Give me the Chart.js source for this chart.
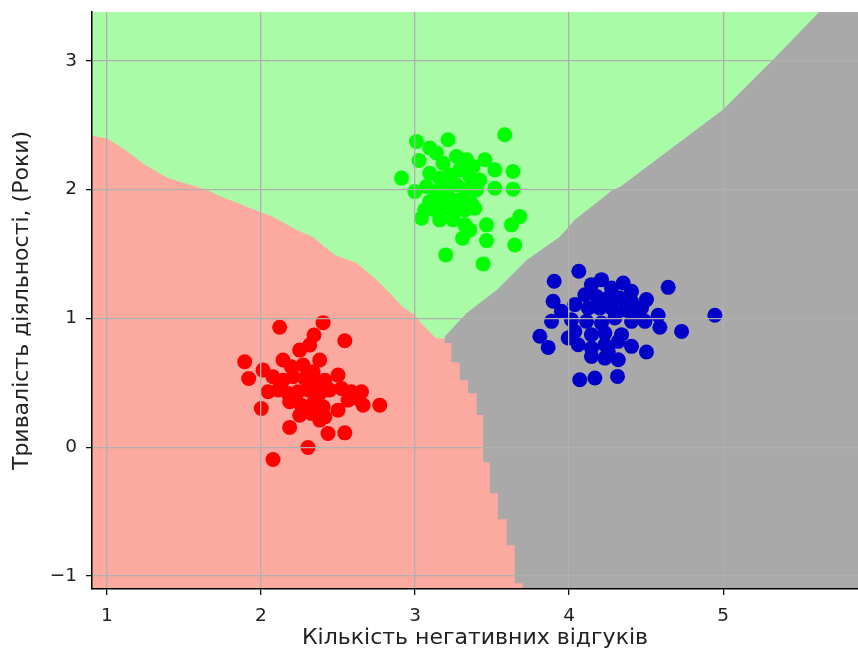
<!DOCTYPE html>
<html>
<head>
<meta charset="utf-8">
<script src="https://cdn.jsdelivr.net/npm/chart.js@4.4.1/dist/chart.umd.min.js"></script>
<style>
  html, body { margin: 0; padding: 0; background: #fff; }
  #wrap { width: 858px; height: 655px; }
</style>
</head>
<body>
<div id="wrap"><canvas id="grafico"></canvas></div>
<script>
// точки трьох класів [x, y]
const redPoints = [
  [2.121, 0.931], [2.403, 0.967], [2.344, 0.871], [2.544, 0.827], [1.894, 0.664],
  [1.920, 0.534], [2.013, 0.599], [2.002, 0.301], [2.186, 0.154], [2.305, -0.002],
  [2.078, -0.095], [2.544, 0.112], [2.435, 0.107], [2.771, 0.327], [2.663, 0.327],
  [2.652, 0.431], [2.500, 0.288], [2.500, 0.560], [2.251, 0.249], [2.381, 0.211],
  [2.251, 0.754], [2.316, 0.793], [2.381, 0.677], [2.143, 0.677], [2.197, 0.625],
  [2.273, 0.638], [2.338, 0.586], [2.078, 0.547], [2.143, 0.521], [2.208, 0.547],
  [2.284, 0.534], [2.349, 0.508], [2.414, 0.521], [2.046, 0.431], [2.111, 0.444],
  [2.176, 0.418], [2.240, 0.431], [2.305, 0.444], [2.381, 0.418], [2.446, 0.444],
  [2.522, 0.457], [2.587, 0.431], [2.186, 0.353], [2.262, 0.327], [2.338, 0.340],
  [2.403, 0.314], [2.565, 0.366], [2.630, 0.379], [2.327, 0.262], [2.414, 0.236]
];
const greenPoints = [
  [3.582, 2.425], [3.009, 2.373], [3.214, 2.386], [3.095, 2.322], [3.026, 2.225],
  [2.912, 2.089], [2.998, 1.984], [3.636, 2.140], [3.636, 2.003], [3.518, 2.011],
  [3.453, 2.231], [3.518, 2.153], [3.680, 1.790], [3.626, 1.726], [3.464, 1.726],
  [3.464, 1.604], [3.647, 1.570], [3.308, 1.622], [3.199, 1.493], [3.442, 1.423],
  [3.042, 1.778], [3.399, 1.998],
  [3.139, 2.283], [3.182, 2.205], [3.269, 2.257], [3.334, 2.231], [3.377, 2.179],
  [3.095, 2.127], [3.160, 2.088], [3.225, 2.114], [3.290, 2.153], [3.355, 2.101],
  [3.420, 2.075], [3.074, 2.024], [3.139, 1.985], [3.204, 2.024], [3.269, 2.037],
  [3.334, 1.998], [3.095, 1.907], [3.160, 1.920], [3.225, 1.933], [3.290, 1.920],
  [3.366, 1.894], [3.063, 1.842], [3.128, 1.842], [3.193, 1.855], [3.258, 1.829],
  [3.323, 1.842], [3.388, 1.855], [3.160, 1.765], [3.247, 1.765], [3.323, 1.726],
  [3.355, 1.687]
];
const bluePoints = [
  [4.063, 1.366], [3.903, 1.288], [4.643, 1.241], [4.946, 1.024], [4.730, 0.899],
  [4.502, 1.146], [4.578, 1.024], [4.589, 0.931], [4.502, 0.739], [3.810, 0.861],
  [3.864, 0.775], [4.069, 0.524], [4.167, 0.537], [4.314, 0.550], [3.896, 1.133],
  [3.886, 0.977], [3.994, 0.848],
  [4.145, 1.262], [4.210, 1.301], [4.275, 1.236], [4.351, 1.275], [4.405, 1.210],
  [4.102, 1.184], [4.178, 1.171], [4.253, 1.158], [4.329, 1.158], [4.405, 1.133],
  [4.470, 1.081], [4.037, 1.107], [4.124, 1.081], [4.199, 1.081], [4.275, 1.081],
  [4.362, 1.068], [4.437, 1.042], [3.950, 1.055], [4.015, 0.990], [4.113, 0.977],
  [4.210, 0.964], [4.297, 1.003], [4.405, 0.977], [4.492, 0.977], [4.037, 0.899],
  [4.145, 0.874], [4.232, 0.887], [4.340, 0.874], [4.059, 0.796], [4.145, 0.770],
  [4.232, 0.796], [4.319, 0.822], [4.405, 0.783], [4.145, 0.705], [4.232, 0.692],
  [4.319, 0.679], [4.254, 0.744]
];

// межі областей класифікації
const redGreenBoundary = [
  [0.80, 2.443], [1.005, 2.394], [1.134, 2.293], [1.245, 2.192], [1.394, 2.091],
  [1.537, 2.037], [1.634, 2.005], [1.745, 1.943], [1.842, 1.897], [1.946, 1.850],
  [2.076, 1.788], [2.232, 1.687], [2.336, 1.632], [2.479, 1.493], [2.621, 1.430],
  [2.751, 1.298], [2.836, 1.197], [2.920, 1.089], [2.998, 1.026], [3.050, 0.949],
  [3.139, 0.845], [3.193, 0.845]
];
const redGrayBoundary = [
  [3.193, 0.860], [3.193, 0.810], [3.236, 0.810], [3.236, 0.660], [3.290, 0.660],
  [3.290, 0.520], [3.344, 0.520], [3.344, 0.420], [3.399, 0.420], [3.399, 0.250],
  [3.442, 0.250], [3.442, -0.116], [3.485, -0.116], [3.485, -0.357], [3.537, -0.357],
  [3.537, -0.559], [3.595, -0.559], [3.595, -0.761], [3.647, -0.761], [3.647, -1.056],
  [3.699, -1.056], [3.699, -1.300]
];
const greenGrayBoundary = [
  [3.193, 0.860], [3.335, 1.042], [3.530, 1.221], [3.725, 1.454], [3.940, 1.633],
  [4.037, 1.765], [4.284, 1.998], [4.330, 2.020], [4.998, 2.619], [5.323, 3.008],
  [5.641, 3.400], [5.641, 3.500]
];

const xTickValues = [1, 2, 3, 4, 5];
const yTickValues = [-1, 0, 1, 2, 3];

const xMin = 0.903, xMax = 5.875, yMin = -1.10, yMax = 3.378;

function toXY(arr) {
  return arr.map(p => ({ x: p[0], y: p[1] }));
}

// багатокутники областей
const greenArea = [[0.7, -1.4], [6.0, -1.4], [6.0, 3.6], [0.7, 3.6]];
const redArea = [[0.7, -1.4], [0.7, 2.443]].concat(redGreenBoundary, [[3.9, 0.845], [3.9, -1.4]]);
const grayArea = redGrayBoundary.concat([[6.0, -1.4], [6.0, 3.6]], greenGrayBoundary.slice().reverse());

function area(points, color, order) {
  return {
    data: toXY(points),
    showLine: true,
    fill: 'shape',
    backgroundColor: color,
    borderWidth: 0,
    pointRadius: 0,
    order: order
  };
}

function cluster(points, color) {
  return {
    data: toXY(points),
    backgroundColor: color,
    borderColor: color,
    borderWidth: 0,
    pointRadius: 7.5,
    order: 0
  };
}

const tickFont = { family: 'DejaVu Sans', size: 18.5 };
const titleFont = { family: 'DejaVu Sans', size: 22 };

const contexto = document.getElementById('grafico').getContext('2d');
new Chart(contexto, {
  type: 'scatter',
  data: {
    datasets: [
      cluster(redPoints, '#ff0000'),
      cluster(greenPoints, '#00ff00'),
      cluster(bluePoints, '#0000c8'),
      area(grayArea, '#a9a9a9', 1),
      area(redArea, '#fca9a0', 2),
      area(greenArea, '#aafba8', 3)
    ]
  },
  options: {
    responsive: true,
    maintainAspectRatio: false,
    animation: false,
    layout: { autoPadding: false, padding: { top: 12, right: 0, left: 0, bottom: 0 } },
    plugins: {
      legend: { display: false },
      tooltip: { enabled: false }
    },
    scales: {
      x: {
        type: 'linear',
        min: xMin,
        max: xMax,
        afterBuildTicks: s => { s.ticks = xTickValues.map(v => ({ value: v })); },
        afterFit: s => { s.height = 66; s.paddingLeft = 0; s.paddingRight = 0; },
        grid: { z: 1, color: '#b0b0b0', lineWidth: 1.3, tickColor: '#000', tickLength: 6, tickWidth: 1.2 },
        border: { z: 1, display: true, color: '#000', width: 1.5 },
        ticks: { font: tickFont, color: '#222', padding: 10 },
        title: { display: true, text: 'Кількість негативних відгуків', font: titleFont, color: '#222', padding: { top: 0, bottom: 4 } }
      },
      y: {
        type: 'linear',
        min: yMin,
        max: yMax,
        afterBuildTicks: s => { s.ticks = yTickValues.map(v => ({ value: v })); },
        afterFit: s => { s.width = 92; s.paddingTop = 0; s.paddingBottom = 0; },
        grid: { z: 1, color: '#b0b0b0', lineWidth: 1.3, tickColor: '#000', tickLength: 6, tickWidth: 1.2 },
        border: { z: 1, display: true, color: '#000', width: 1.5 },
        ticks: {
          font: tickFont,
          color: '#222',
          padding: 9,
          callback: v => String(v).replace('-', '\u2212')
        },
        title: { display: true, text: 'Тривалість діяльності, (Роки)', font: titleFont, color: '#222', padding: { top: 9, bottom: 0 } }
      }
    }
  }
});
</script>
</body>
</html>
